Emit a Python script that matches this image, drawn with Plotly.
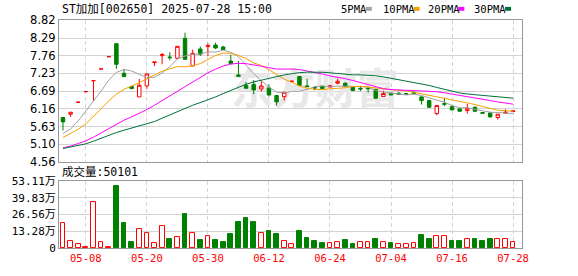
import plotly.graph_objects as go

# ---------------- data ----------------
dates = ["04-30", "05-06", "05-07", "05-08", "05-09", "05-12", "05-13", "05-14", "05-15", "05-16",
         "05-19", "05-20", "05-21", "05-22", "05-23", "05-26", "05-27", "05-28", "05-29", "05-30",
         "06-03", "06-04", "06-05", "06-06", "06-09", "06-10", "06-11", "06-12", "06-13", "06-16",
         "06-17", "06-18", "06-19", "06-20", "06-23", "06-24", "06-25", "06-26", "06-27", "06-30",
         "07-01", "07-02", "07-03", "07-04", "07-07", "07-08", "07-09", "07-10", "07-11", "07-14",
         "07-15", "07-16", "07-17", "07-18", "07-21", "07-22", "07-23", "07-24", "07-25", "07-28"]
opens = [5.90, 6.00, 6.36, 6.68, 7.01, 7.36, 7.73, 8.12, 7.23, 6.83,
         6.52, 6.85, 7.55, 7.76, 7.72, 7.68, 8.28, 7.45, 7.96, 8.03,
         8.08, 8.02, 7.60, 7.18, 6.87, 6.89, 6.76, 6.79, 6.56, 6.53,
         6.99, 7.13, 6.85, 6.80, 6.84, 6.82, 6.93, 6.93, 6.81, 6.78,
         6.78, 6.74, 6.53, 6.63, 6.63, 6.62, 6.66, 6.52, 6.41, 6.02,
         6.32, 6.23, 6.16, 6.11, 6.21, 6.05, 6.04, 5.90, 6.03, 6.08]
highs = [5.92, 6.06, 6.36, 6.68, 7.01, 7.36, 7.73, 8.12, 7.36, 6.85,
         7.06, 7.21, 7.57, 7.84, 7.86, 8.04, 8.45, 7.94, 8.04, 8.13,
         8.15, 8.06, 7.79, 7.60, 6.97, 7.02, 7.02, 6.89, 6.58, 6.66,
         6.99, 7.15, 7.06, 6.85, 6.86, 6.88, 7.06, 6.96, 6.82, 6.84,
         6.81, 6.75, 6.71, 6.65, 6.67, 6.64, 6.68, 6.53, 6.42, 6.26,
         6.50, 6.25, 6.17, 6.31, 6.23, 6.07, 6.05, 6.00, 6.15, 6.11]
lows = [5.51, 5.92, 6.36, 6.68, 6.40, 7.36, 7.73, 7.36, 7.13, 6.77,
        6.52, 6.76, 7.45, 7.50, 7.62, 7.66, 7.65, 7.45, 7.75, 7.75,
        7.96, 7.94, 7.52, 7.14, 6.78, 6.60, 6.68, 6.53, 6.26, 6.41,
        6.99, 6.85, 6.82, 6.72, 6.76, 6.80, 6.90, 6.84, 6.71, 6.70,
        6.65, 6.47, 6.52, 6.57, 6.58, 6.58, 6.60, 6.29, 6.19, 5.97,
        6.24, 6.12, 6.07, 6.02, 6.06, 6.02, 5.90, 5.84, 6.02, 6.07]
closes = [5.77, 6.06, 6.36, 6.68, 7.01, 7.36, 7.73, 7.50, 7.13, 6.77,
          6.87, 7.21, 7.57, 7.79, 7.70, 8.04, 7.65, 7.83, 7.80, 8.06,
          7.99, 7.94, 7.52, 7.14, 6.78, 6.73, 6.85, 6.58, 6.37, 6.66,
          6.99, 6.87, 6.83, 6.79, 6.77, 6.85, 6.99, 6.84, 6.71, 6.76,
          6.77, 6.48, 6.62, 6.58, 6.60, 6.61, 6.62, 6.41, 6.21, 6.26,
          6.30, 6.13, 6.09, 6.18, 6.09, 6.03, 5.92, 6.00, 6.06, 6.10]
last_volume = 50101
volumes = [19.8, 5.2, 2.8, 0.8, 36.7, 4.4, 0.7, 49.3, 20.0, 4.6,
           15.2, 11.5, 3.8, 17.4, 6.9, 9.0, 26.9, 11.5, 6.2, 9.2,
           6.2, 4.6, 10.8, 20.8, 23.9, 20.8, 12.1, 13.1, 10.8, 5.9,
           3.1, 13.1, 7.7, 5.4, 3.8, 3.8, 5.1, 6.2, 3.1, 4.4,
           5.1, 6.9, 4.4, 3.8, 2.8, 2.8, 3.8, 10.0, 6.9, 9.7,
           9.2, 5.4, 5.4, 7.4, 6.9, 5.4, 6.9, 7.4, 6.9, last_volume / 10000]
prev_close = 5.50  # close of the session before the first bar

# moving-average values before a full window exists
ma5_head = [5.42, 5.56, 5.80, 6.09]
ma10_head = [5.30, 5.42, 5.55, 5.71, 5.92, 6.16, 6.40, 6.60, 6.75]
ma20_head = [4.99, 5.04, 5.12, 5.20, 5.31, 5.44, 5.58, 5.71, 5.82, 5.92,
             6.02, 6.14, 6.27, 6.41, 6.54, 6.69, 6.82, 6.95, 7.10]
ma30_head = [4.97, 5.01, 5.06, 5.11, 5.19, 5.28, 5.37, 5.45, 5.52, 5.59,
             5.65, 5.71, 5.78, 5.88, 5.98, 6.08, 6.18, 6.27, 6.35, 6.43,
             6.52, 6.62, 6.72, 6.81, 6.90, 6.97, 7.03, 7.08, 7.13]

price_ticks = [4.56, 5.10, 5.63, 6.16, 6.69, 7.23, 7.76, 8.29, 8.82]
volume_ticks = [0, 13.28, 26.56, 39.83, 53.11]
date_ticks = ["05-08", "05-20", "05-30", "06-12", "06-24", "07-04", "07-16", "07-28"]
title_text = "ST加加[002650] 2025-07-28 15:00"
ma_names = ["5PMA", "10PMA", "20PMA", "30PMA"]

# ---------------- styles ----------------
RED = "#ff0000"
GREEN = "#008000"
MA_COLORS = ["#a0a0a0", "#f5a000", "#ff00ff", "#00703a"]
GRID = "#d4d4d4"
BORDER = "#999999"
MONO = "DejaVu Sans Mono, Noto Sans CJK SC"

W, H = 578, 276
L, R, T, B = 56, 56, 20, 21
PW, PH = W - L - R, H - T - B


def px_x(x):
    return (x - L) / PW


def px_y(y):
    return (H - B - y) / PH


def moving_average(n, head):
    out = list(head)
    for i in range(len(head), len(closes)):
        out.append(sum(closes[i - n + 1:i + 1]) / n)
    return out


idx = list(range(len(dates)))
mas = [moving_average(5, ma5_head), moving_average(10, ma10_head),
       moving_average(20, ma20_head), moving_average(30, ma30_head)]

fig = go.Figure()

fig.add_trace(go.Candlestick(
    x=idx, open=opens, high=highs, low=lows, close=closes,
    increasing=dict(line=dict(color=RED, width=1), fillcolor="white"),
    decreasing=dict(line=dict(color=GREEN, width=1), fillcolor=GREEN),
    whiskerwidth=0, xaxis="x", yaxis="y", showlegend=False, hoverinfo="skip"))

for vals, col in zip(mas, MA_COLORS):
    fig.add_trace(go.Scatter(x=idx, y=vals, mode="lines", line=dict(color=col, width=1),
                             xaxis="x", yaxis="y", showlegend=False, hoverinfo="skip"))

ups = [closes[i] >= (closes[i - 1] if i > 0 else prev_close) for i in idx]
fig.add_trace(go.Bar(
    x=idx, y=volumes, width=0.62,
    marker=dict(color=["white" if u else GREEN for u in ups],
                line=dict(color=[RED if u else GREEN for u in ups], width=1)),
    xaxis="x2", yaxis="y2", showlegend=False, hoverinfo="skip"))

tickpos = [dates.index(d) for d in date_ticks]
xr = [-0.52, 60.17]
common_x = dict(range=xr, tickvals=tickpos, showgrid=True, gridcolor=GRID, griddash="4px,3px",
                gridwidth=1, zeroline=False, showline=True, linecolor=BORDER, linewidth=1,
                mirror=True, ticks="", fixedrange=True)

fig.update_layout(
    width=W, height=H, autosize=False,
    margin=dict(l=L, r=R, t=T, b=B, pad=0),
    paper_bgcolor="white", plot_bgcolor="white",
    boxgap=0.35, bargap=0,
    xaxis=dict(domain=[0, 1], anchor="y", showticklabels=False, rangeslider=dict(visible=False),
               **common_x),
    xaxis2=dict(domain=[0, 1], anchor="y2", showticklabels=True, ticktext=date_ticks,
                tickfont=dict(family=MONO, size=10.5, color=RED), **common_x),
    yaxis=dict(domain=[px_y(166.5), px_y(20.4)], range=[price_ticks[0], price_ticks[-1]],
               tickvals=price_ticks, ticktext=[f"{v:.2f}" for v in price_ticks],
               tickfont=dict(family="DejaVu Sans", size=11.5, color="#000000"),
               showgrid=True, gridcolor=GRID, gridwidth=1, zeroline=False,
               showline=True, linecolor=BORDER, linewidth=1, mirror=True, ticks="",
               fixedrange=True),
    yaxis2=dict(domain=[0, px_y(186)], range=[0, volume_ticks[-1]],
                tickvals=volume_ticks,
                ticktext=["0" if v == 0 else f"{v:.2f}万" for v in volume_ticks],
                tickfont=dict(family=MONO, size=11, color="#000000"),
                showgrid=True, gridcolor=GRID, gridwidth=1, zeroline=False,
                showline=True, linecolor=BORDER, linewidth=1, mirror=True, ticks="",
                fixedrange=True),
)

annotations = [
    dict(text=title_text, x=px_x(57), y=px_y(8.5), xref="paper", yref="paper",
         xanchor="left", yanchor="middle", showarrow=False,
         font=dict(family=MONO, size=11.5, color="#000000")),
    dict(text=f"成交量:{last_volume}", x=px_x(57), y=px_y(177), xref="paper", yref="paper",
         xanchor="left", yanchor="middle", showarrow=False,
         font=dict(family=MONO, size=11.5, color="#000000")),
]
shapes = []
legend_x = [338, 380, 425, 472]
for name, lx, col in zip(ma_names, legend_x, MA_COLORS):
    annotations.append(dict(text=name, x=px_x(lx), y=px_y(8.5), xref="paper", yref="paper",
                            xanchor="left", yanchor="middle", showarrow=False,
                            font=dict(family=MONO, size=10.5, color="#000000")))
    sx = lx + 6.2 * len(name) + 2
    shapes.append(dict(type="rect", xref="paper", yref="paper",
                       x0=px_x(sx), x1=px_x(sx + 6), y0=px_y(10.5), y1=px_y(6.5),
                       fillcolor=col, line=dict(width=0)))

# watermark
shapes.append(dict(type="rect", xref="x", yref="y", x0=22, x1=44, y0=6.2, y1=7.1,
                   layer="between", line=dict(width=0), fillcolor="rgba(0,0,0,0)",
                   label=dict(text="东方财富", textposition="middle center",
                              font=dict(family="Noto Sans CJK SC", size=42, color="#e8e8e8",
                                        weight=700))))

fig.update_layout(annotations=annotations, shapes=shapes)
fig.write_html("out.html")
